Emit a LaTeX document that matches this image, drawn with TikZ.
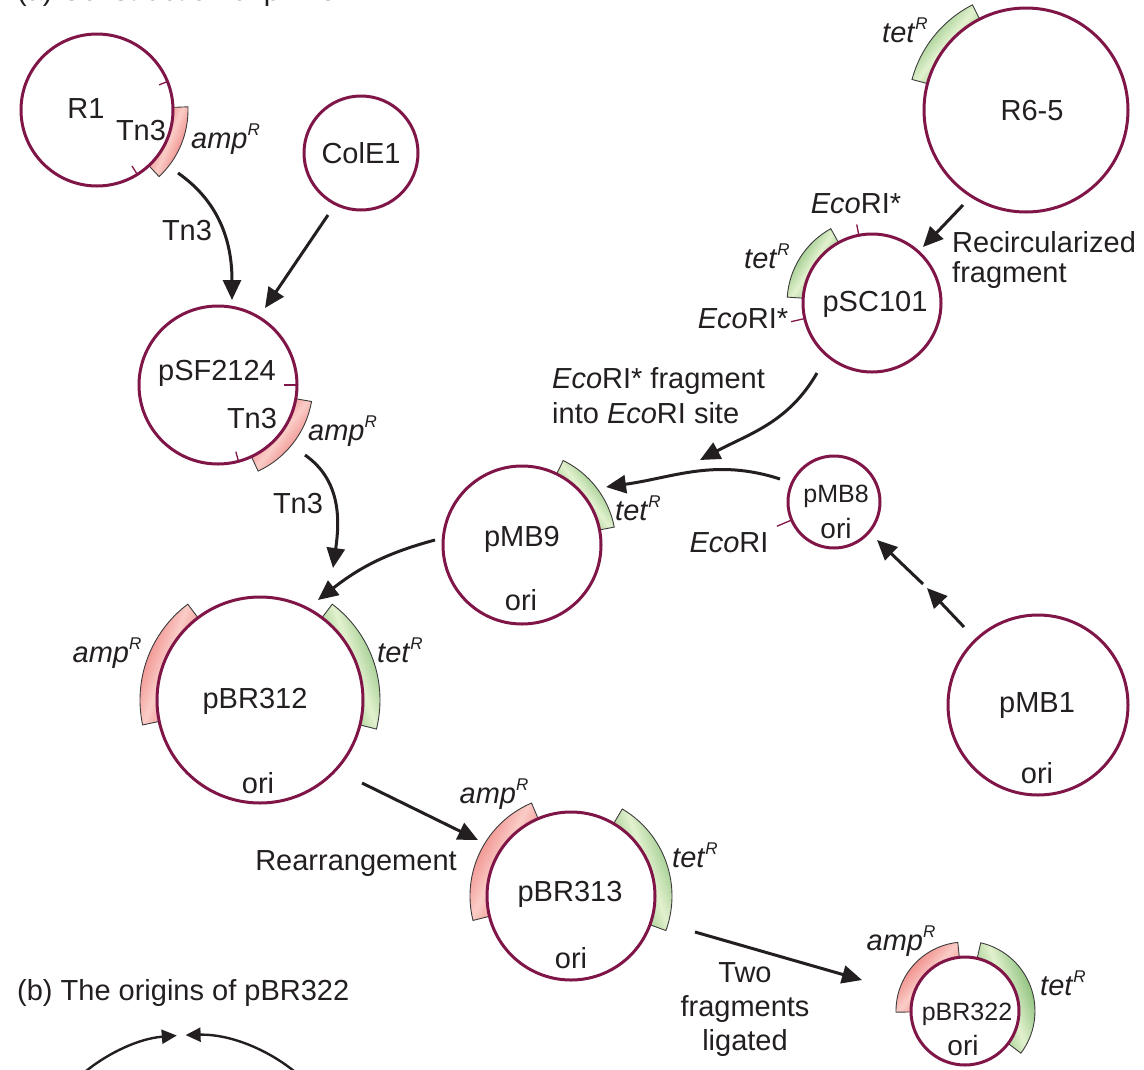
\documentclass[tikz,border=0pt]{standalone}
\usepackage{fontspec}
\setmainfont{Liberation Sans}
\usetikzlibrary{arrows.meta}
\definecolor{maroon}{RGB}{128,22,72}
\definecolor{ampdark}{RGB}{234,100,100}
\definecolor{amplight}{RGB}{250,204,198}
\definecolor{tetdark}{RGB}{108,174,94}
\definecolor{tetlight}{RGB}{226,241,206}
\definecolor{bandline}{RGB}{60,60,60}
\definecolor{ink}{RGB}{35,31,32}
\newcommand\fsz{\fontsize{29}{34}\selectfont}
\newcommand\fsm{\fontsize{25}{30}\selectfont}
\newcommand\supR{\raisebox{0.42em}{\fontsize{17}{17}\selectfont\itshape R}}
\newcommand\amp{\textit{amp}\supR}
\newcommand\tet{\textit{tet}\supR}
\newcommand\gband[6]{%
  \pgfmathsetmacro\midang{(#4+#5)/2+90}%
  \shadedraw[draw=bandline, line width=0.9pt, left color=#6dark, right color=#6dark,
    middle color=#6light, shading angle=\midang, shift={(#1)}]
    (#4:#2) arc[start angle=#4, end angle=#5, radius=#2] -- (#5:#3)
    arc[start angle=#5, end angle=#4, radius=#3] -- cycle;}
\begin{document}
\begin{tikzpicture}[x=1pt,y=1pt,
  plasmid/.style={circle, draw=maroon, line width=3pt, inner sep=0pt},
  lab/.style={text=ink, font=\fsz, inner sep=0pt, anchor=base},
  labw/.style={lab, anchor=base west},
  small/.style={font=\fsm},
  arr/.style={draw=ink, line width=3pt, -{Triangle[length=20pt,width=18pt]}},
  arrs/.style={draw=ink, line width=2.4pt, -{Triangle[length=15pt,width=14pt]}},
  tickmark/.style={draw=maroon, line width=1.3pt}]
\useasboundingbox (0,0) rectangle (1144,-1069);
\clip (0,0) rectangle (1144,-1069);

% centres
\coordinate (cR1) at (97,-110);
\coordinate (cCol) at (361,-153);
\coordinate (cSF) at (218,-385);
\coordinate (cR65) at (1026,-110);
\coordinate (cSC) at (872,-303);
\coordinate (cMB8) at (834,-502);
\coordinate (cMB9) at (522,-545);
\coordinate (cBR312) at (260,-700);
\coordinate (cMB1) at (1038,-705);
\coordinate (cBR313) at (571,-896);
\coordinate (cBR322) at (965,-1011);
\coordinate (cB) at (190,-1203);

% gene bands
\gband{cR1}{76}{91}{-47}{2}{amp}
\gband{cSF}{79}{95}{-65}{-10}{amp}
\gband{cR65}{102}{118}{117}{165}{tet}
\gband{cSC}{69}{85}{119}{176}{tet}
\gband{cMB9}{79}{94}{11}{64}{tet}
\gband{cBR312}{103}{120}{127}{192}{amp}
\gband{cBR312}{103}{120}{-14}{53}{tet}
\gband{cBR313}{84}{101}{113}{194}{amp}
\gband{cBR313}{84}{101}{-20}{59.5}{tet}
\gband{cBR322}{54}{69}{96}{181}{amp}
\gband{cBR322}{54}{70}{-37}{77}{tet}

% plasmids
\node[plasmid, minimum size=152pt] (r1) at (cR1) {};
\node[plasmid, minimum size=114pt] (cole1) at (cCol) {};
\node[plasmid, minimum size=158pt] (psf) at (cSF) {};
\node[plasmid, minimum size=204pt] (r65) at (cR65) {};
\node[plasmid, minimum size=138pt] (psc) at (cSC) {};
\node[plasmid, minimum size=92pt] (pmb8) at (cMB8) {};
\node[plasmid, minimum size=158pt] (pmb9) at (cMB9) {};
\node[plasmid, minimum size=206pt] (pbr312) at (cBR312) {};
\node[plasmid, minimum size=180pt] (pmb1) at (cMB1) {};
\node[plasmid, minimum size=168pt] (pbr313) at (cBR313) {};
\node[plasmid, minimum size=108pt] (pbr322) at (cBR322) {};

% ticks
\draw[tickmark, shift={(cR1)}] (22:76) -- (22:67);
\draw[tickmark, shift={(cR1)}] (-58:76) -- (-58:66);
\draw[tickmark, shift={(cSF)}] (0:79) -- (0:66);
\draw[tickmark, shift={(cSF)}] (-75:79) -- (-75:69);
\draw[tickmark, shift={(cSC)}] (101:69) -- (101:80);
\draw[tickmark, shift={(cSC)}] (193:69) -- (193:83);
\draw[tickmark, shift={(cMB8)}] (203:46) -- (203:62);

% labels
\node[labw] (ta) at (17,0) {(a) Construction of pBR322};
\node[labw] (tb) at (17,-1000) {(b) The origins of pBR322};
\node[lab] (lr1) at (86,-118) {R1};
\node[lab] (ltn1) at (141,-140) {Tn3};
\node[labw] (lamp1) at (191,-148) {\amp};
\node[lab] (lcol) at (361,-163) {ColE1};
\node[lab] (ltna) at (187,-240) {Tn3};
\node[lab] (lsf) at (217,-380) {pSF2124};
\node[lab] (ltn2) at (252,-428) {Tn3};
\node[labw] (lamp2) at (308,-440) {\amp};
\node[lab] (ltnb) at (298,-513) {Tn3};
\node[lab] (lr65) at (1032,-120) {R6-5};
\node[lab] (ltet1) at (905,-42) {\tet};
\node[lab] (lsc) at (875,-311) {pSC101};
\node[lab] (leco1) at (856,-213) {\textit{Eco}RI*};
\node[lab] (ltet2) at (767,-268) {\tet};
\node[lab] (leco2) at (743,-328) {\textit{Eco}RI*};
\node[labw] (lrec1) at (952,-252) {Recircularized};
\node[labw] (lrec2) at (952,-282) {fragment};
\node[labw] (lfr1) at (552,-388) {\textit{Eco}RI* fragment};
\node[labw] (lfr2) at (552,-423) {into \textit{Eco}RI site};
\node[labw] (ltet3) at (615,-520) {\tet};
\node[lab, small] (lmb8) at (836,-502) {pMB8};
\node[lab, font=\fontsize{28}{32}\selectfont] (lori8) at (836,-538) {ori};
\node[lab] (leco3) at (729,-552) {\textit{Eco}RI};
\node[lab] (lmb9) at (522,-546) {pMB9};
\node[lab] (lori9) at (521,-610) {ori};
\node[lab] (l312) at (255,-708) {pBR312};
\node[lab] (lori312) at (258,-793) {ori};
\node[lab] (lamp3) at (107,-662) {\amp};
\node[labw] (ltet4) at (377,-662) {\tet};
\node[lab] (lmb1) at (1037,-712) {pMB1};
\node[lab] (lori1) at (1037,-783) {ori};
\node[lab] (l313) at (570,-901) {pBR313};
\node[lab] (lori313) at (571,-968) {ori};
\node[lab] (lamp4) at (494,-803) {\amp};
\node[labw] (ltet5) at (672,-867) {\tet};
\node[lab] (lrearr) at (356,-870) {Rearrangement};
\node[lab, small] (l322) at (967,-1020) {pBR322};
\node[lab, font=\fontsize{28}{32}\selectfont] (lori322) at (963,-1055) {ori};
\node[lab] (lamp5) at (901,-950) {\amp};
\node[labw] (ltet6) at (1040,-995) {\tet};
\node[lab] (ltwo1) at (745,-982) {Two};
\node[lab] (ltwo2) at (745,-1016) {fragments};
\node[lab] (ltwo3) at (745,-1050) {ligated};

% connector end points
\coordinate (a1s) at (178,-173);  \coordinate (a1e) at (232,-300);
\coordinate (a2s) at (328,-215);  \coordinate (a2e) at (265,-308);
\coordinate (a3s) at (305,-455);  \coordinate (a3e) at (333,-568);
\coordinate (a4s) at (435,-540);  \coordinate (a4e) at (318,-600);
\coordinate (a5s) at (780,-479);  \coordinate (a5e) at (606,-487);
\coordinate (a6s) at (817,-373);  \coordinate (a6e) at (700,-460);
\coordinate (a7s) at (964,-627);  \coordinate (a7m) at (927,-588);
\coordinate (a7n) at (923,-584);  \coordinate (a7e) at (877,-540);
\coordinate (a8s) at (963,-205);  \coordinate (a8e) at (923,-247);
\coordinate (a9s) at (362,-783);  \coordinate (a9e) at (478,-840);
\coordinate (a10s) at (695,-932); \coordinate (a10e) at (862,-980);

% connectors
\draw[arr] (a1s) to[out=-35, in=90] (a1e);
\draw[arr] (a2s) -- (a2e);
\draw[arr] (a3s) to[out=-35, in=82] (a3e);
\draw[arr] (a4s) to[out=195, in=38] (a4e);
\draw[arr] (a5s) to[out=162, in=8] (a5e);
\draw[arr] (a6s) to[out=240, in=28] (a6e);
\draw[arr] (a7s) -- (a7m);
\draw[arr] (a7n) -- (a7e);
\draw[arr] (a8s) -- (a8e);
\draw[arr] (a9s) -- (a9e);
\draw[arr] (a10s) -- (a10e);

% partial figure (b)
\draw[arrs, shift={(cB)}] (135:168) arc[start angle=135, end angle=94.5, radius=168];
\draw[arrs, shift={(cB)}] (45:168) arc[start angle=45, end angle=91.5, radius=168];
\end{tikzpicture}
\end{document}
